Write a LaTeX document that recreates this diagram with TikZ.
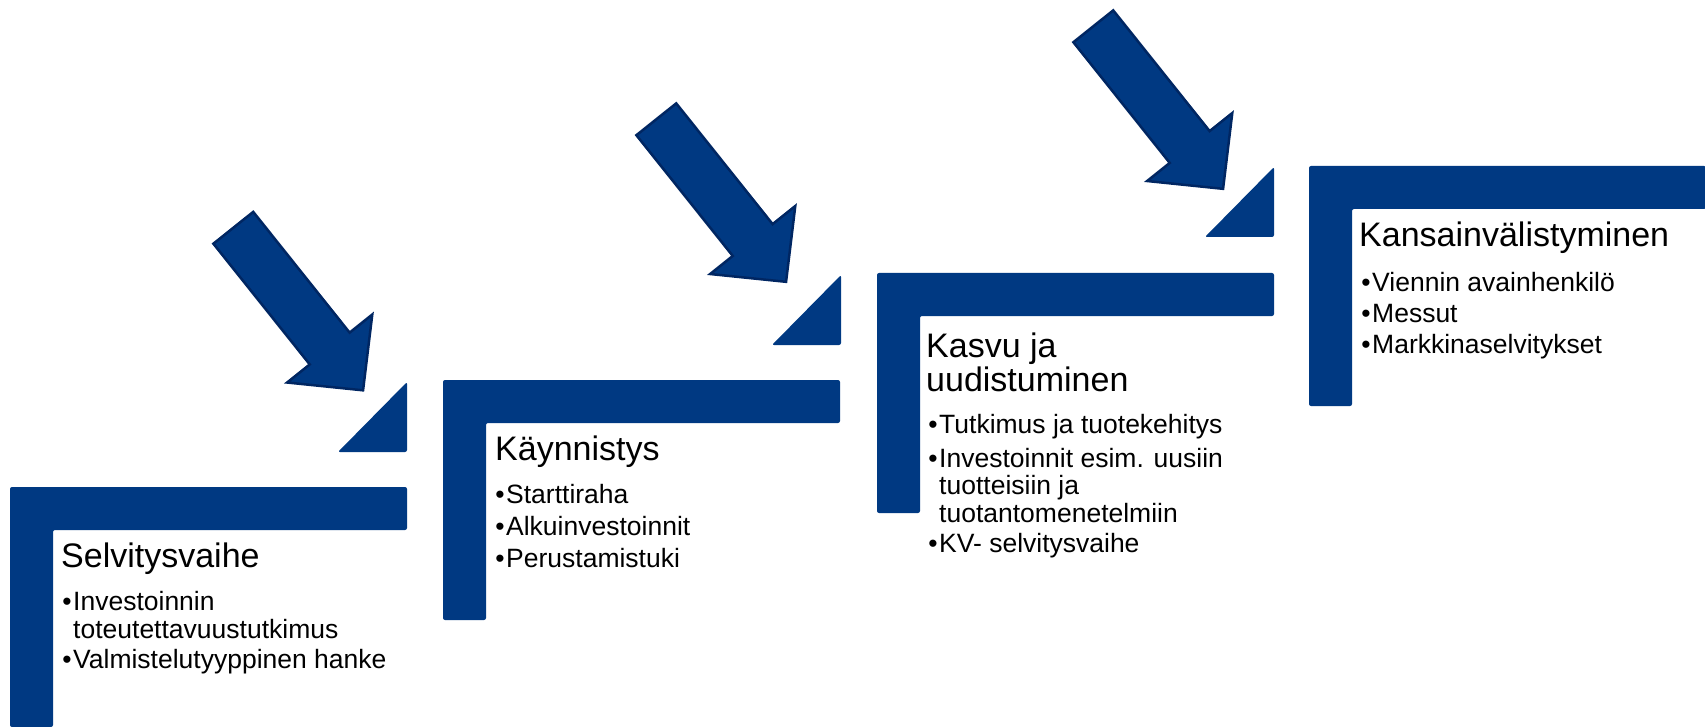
\documentclass[tikz,border=0pt]{standalone}
\usepackage{fontspec}
\setmainfont{Liberation Sans}

\definecolor{stageblue}{RGB}{0,57,130}
\definecolor{arrowedge}{RGB}{0,38,98}

\tikzset{
    stagebar/.style={fill=stageblue, rounded corners=2pt},
    bigarrow/.style={fill=stageblue, draw=arrowedge, line width=2.5pt, line join=miter},
    stagetitle/.style={anchor=base west, inner sep=0pt, align=left, font=\fontsize{34}{34}\selectfont},
    bullettext/.style={anchor=base west, inner sep=0pt, align=left, font=\fontsize{26.5}{27.5}\selectfont}
}
\newcommand{\bul}{\llap{\textbullet\hspace{1.5pt}}}

\begin{document}
\begin{tikzpicture}[x=1pt, y=-1pt]
    \useasboundingbox (0,0) rectangle (1705,727);

    % L-shaped steps
    \foreach \lx/\ly/\lb in {10/487/727, 443/380/620, 877/273/513, 1309/166/406}
        \fill[stagebar] (\lx,\ly) -- (\lx+397,\ly) -- (\lx+397,\ly+43) -- (\lx+43,\ly+43) -- (\lx+43,\lb) -- (\lx,\lb) -- cycle;

    % Corner triangles
    \foreach \rx/\by in {407/452, 841/345, 1274/237}
        \fill[stagebar] (\rx-69,\by) -- (\rx,\by) -- (\rx,\by-70) -- cycle;

    % Arrows pointing down to the steps
    \foreach \tx/\ty in {364/391.5, 787/283, 1224/190}
        \draw[bigarrow, shift={(\tx,\ty)}, rotate=-51.4] (-1.5,0) -- (-55,-54.5) -- (-55,-25.5) -- (-209.5,-25.5)
            -- (-209.5,25.5) -- (-55,25.5) -- (-55,54.5) -- cycle;

    % Step 1 (multi-line nodes sit on their last baseline)
    \node[stagetitle] (t1) at (61,567) {Selvitysvaihe};
    \node[bullettext] (b1a) at (73,638) {\bul Investoinnin\\toteutettavuustutkimus};
    \node[bullettext] (b1b) at (73,668) {\bul Valmistelutyyppinen hanke};

    % Step 2
    \node[stagetitle] (t2) at (495,460) {Käynnistys};
    \node[bullettext] (b2a) at (506,503) {\bul Starttiraha};
    \node[bullettext] (b2b) at (506,535) {\bul Alkuinvestoinnit};
    \node[bullettext] (b2c) at (506,567) {\bul Perustamistuki};

    % Step 3
    \node[stagetitle] (t3) at (926,391) {Kasvu ja\\uudistuminen};
    \node[bullettext] (b3a) at (939,433) {\bul Tutkimus ja tuotekehitys};
    \node[bullettext] (b3b) at (939,522) {\bul Investoinnit esim. uusiin\\tuotteisiin ja\\tuotantomenetelmiin};
    \node[bullettext] (b3c) at (939,552) {\bul KV- selvitysvaihe};

    % Step 4
    \node[stagetitle] (t4) at (1359,247) {Kansainvälistyminen};
    \node[bullettext] (b4a) at (1372,291) {\bul Viennin avainhenkilö};
    \node[bullettext] (b4b) at (1372,322) {\bul Messut};
    \node[bullettext] (b4c) at (1372,353) {\bul Markkinaselvitykset};
\end{tikzpicture}
\end{document}
